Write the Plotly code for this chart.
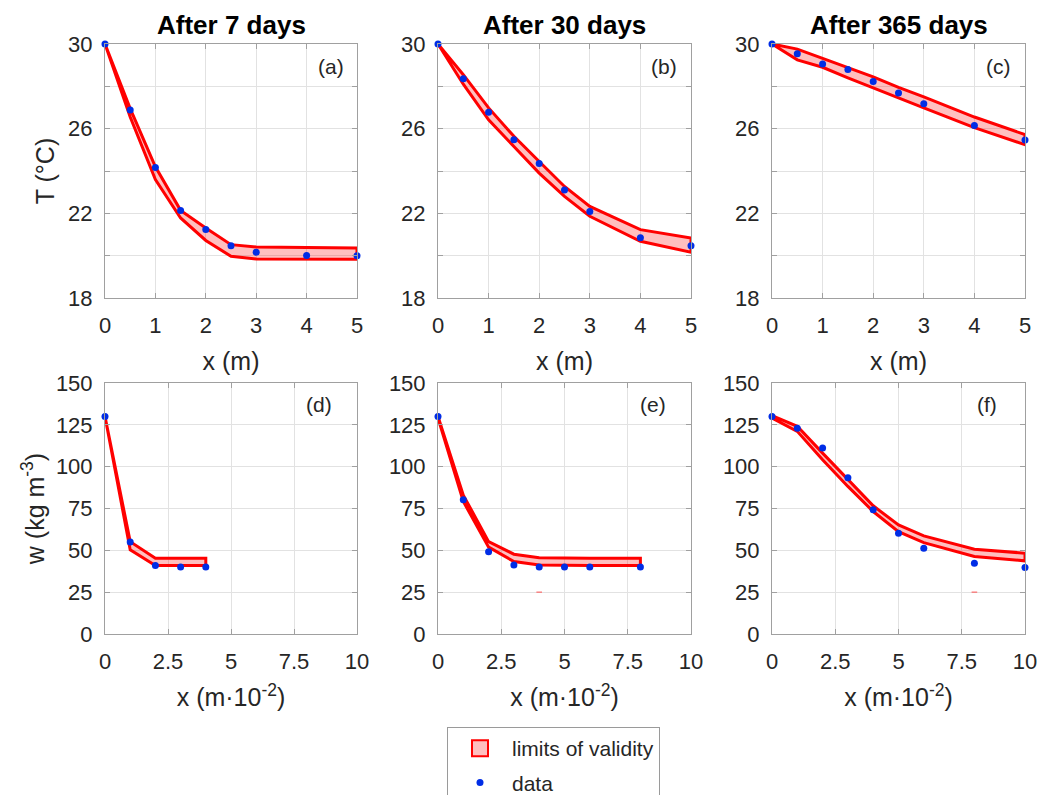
import plotly.graph_objects as go

# ---------------- data ----------------
# Temperature profiles (top row)
x_T = [0, 0.5, 1, 1.5, 2, 2.5, 3, 4, 5]

T7_data  = [30, 26.88, 24.17, 22.13, 21.24, 20.47, 20.16, 20.01, 20.0]
T7_upper = [30, 26.95, 24.20, 22.14, 21.31, 20.52, 20.41, 20.37, 20.36]
T7_lower = [30, 26.55, 23.60, 21.78, 20.72, 19.97, 19.84, 19.83, 19.83]

T30_data  = [30, 28.36, 26.77, 25.48, 24.35, 23.10, 22.09, 20.85, 20.47]
T30_upper = [30, 28.55, 26.98, 25.64, 24.45, 23.27, 22.33, 21.23, 20.83]
T30_lower = [30, 28.10, 26.42, 25.16, 23.90, 22.80, 21.86, 20.68, 20.16]

T365_data  = [30, 29.54, 29.06, 28.79, 28.23, 27.69, 27.18, 26.15, 25.47]
T365_upper = [30, 29.76, 29.32, 28.90, 28.45, 27.95, 27.50, 26.55, 25.72]
T365_lower = [30, 29.25, 28.90, 28.40, 27.95, 27.45, 26.98, 26.05, 25.24]

# Moisture profiles (bottom row)
x_w7 = [0, 1, 2, 3, 4]
w7_data  = [130, 55.0, 41.0, 40.0, 40.0]
w7_upper = [130, 55.2, 45.3, 45.3, 45.3]
w7_lower = [130, 50.3, 40.9, 40.9, 40.9]

x_w30 = [0, 1, 2, 3, 4, 5, 6, 8]
w30_data  = [130, 80.2, 49.1, 41.3, 40.0, 40.0, 40.0, 40.0]
w30_upper = [130, 83.0, 55.2, 47.7, 45.6, 45.3, 45.3, 45.3]
w30_lower = [129, 79.2, 51.9, 43.3, 41.2, 40.9, 40.9, 40.9]

x_w365 = [0, 1, 2, 3, 4, 5, 6, 8, 10]
w365_data  = [130, 122.9, 111.1, 93.4, 74.2, 60.2, 51.3, 42.3, 39.7]
w365_upper = [130.5, 124.1, 108.1, 92.2, 76.6, 65.2, 58.6, 50.7, 48.3]
w365_lower = [129.0, 121.1, 104.1, 88.2, 73.2, 61.2, 54.6, 46.3, 43.7]

# small stray red marks seen in panels (d) and (e)
stray_x = {4: [4], 5: [8]}
stray_y = {4: [25], 5: [25]}

titles = ["After 7 days", "After 30 days", "After 365 days"]
panel_labels = ["(a)", "(b)", "(c)", "(d)", "(e)", "(f)"]

T_ticks = [18, 22, 26, 30]
T_minor = [20, 24, 28]
xT_ticks = [0, 1, 2, 3, 4, 5]
w_ticks = [0, 25, 50, 75, 100, 125, 150]
xw_ticks = [0, 2.5, 5, 7.5, 10]
xw_ticktext = ["0", "2.5", "5", "7.5", "10"]

panels = [
    (x_T, T7_data, T7_upper, T7_lower),
    (x_T, T30_data, T30_upper, T30_lower),
    (x_T, T365_data, T365_upper, T365_lower),
    (x_w7, w7_data, w7_upper, w7_lower),
    (x_w30, w30_data, w30_upper, w30_lower),
    (x_w365, w365_data, w365_upper, w365_lower),
]

# ---------------- layout geometry ----------------
W, H = 1037, 795
col_px = [(105, 357), (438, 691), (772, 1025)]
row_px = [(44, 298), (383, 634)]

FONT = "Liberation Sans, Arial, Helvetica, sans-serif"
TXT = "#262626"
AXC = "#a0a0a0"
GRID = "#e2e2e2"
RED = "#ff0000"
PINK = "rgba(255,0,0,0.25)"
PINK_SOLID = "#ffbfbf"
BLUE = "rgb(0,45,230)"

fig = go.Figure()

for i, (xs, d, up, lo) in enumerate(panels):
    n = i + 1
    xa = "x" if n == 1 else f"x{n}"
    ya = "y" if n == 1 else f"y{n}"
    fig.add_trace(go.Scatter(
        x=list(xs) + list(xs)[::-1], y=list(up) + list(lo)[::-1],
        xaxis=xa, yaxis=ya, mode="lines", fill="toself",
        fillcolor=PINK, line=dict(color=RED, width=3),
        name="limits of validity", legendgroup="lim", showlegend=False,
        hoverinfo="skip"))
    if i in stray_x:
        fig.add_trace(go.Scatter(
            x=stray_x[i], y=stray_y[i], xaxis=xa, yaxis=ya, mode="markers",
            marker=dict(symbol="line-ew", size=4, line=dict(color="rgba(255,60,60,0.6)", width=1.5)),
            showlegend=False, hoverinfo="skip"))
    fig.add_trace(go.Scatter(
        x=xs, y=d, xaxis=xa, yaxis=ya, mode="markers",
        marker=dict(color=BLUE, size=7), name="data", legendrank=2,
        showlegend=(i == 0), cliponaxis=False))

# legend-only patch entry (pink box with red edge, as in the reference legend)
fig.add_trace(go.Scatter(
    x=[None], y=[None], mode="markers", name="limits of validity",
    legendgroup="lim", legendrank=1,
    marker=dict(symbol="square", size=16, color=PINK_SOLID, line=dict(color=RED, width=2))))

layout = dict(
    width=W, height=H,
    margin=dict(l=0, r=0, t=0, b=0, autoexpand=False),
    paper_bgcolor="white", plot_bgcolor="white",
    font=dict(family=FONT, color=TXT, size=21),
    showlegend=True,
    legend=dict(x=447 / W, xanchor="left", y=1 - 727 / H, yanchor="top",
                bordercolor="#9a9a9a", borderwidth=1, bgcolor="white",
                font=dict(size=21, color=TXT), tracegroupgap=4,
                itemwidth=54),
)

common = dict(showline=True, linecolor=AXC, linewidth=1, mirror="ticks",
              ticks="inside", ticklen=5, tickcolor=AXC, showgrid=True,
              gridcolor=GRID, gridwidth=1, zeroline=False,
              ticklabeloverflow="allow",
              tickfont=dict(size=22, color=TXT, family=FONT))

annotations = []
for i in range(6):
    n = i + 1
    r = 0 if i < 3 else 1
    c = i % 3
    x0, x1 = col_px[c]
    y0, y1 = row_px[r]
    xkey = "xaxis" if n == 1 else f"xaxis{n}"
    ykey = "yaxis" if n == 1 else f"yaxis{n}"
    yanchor_name = "y" if n == 1 else f"y{n}"
    xanchor_name = "x" if n == 1 else f"x{n}"
    xd = [x0 / W, x1 / W]
    yd = [1 - y1 / H, 1 - y0 / H]
    if r == 0:
        xax = dict(common, domain=xd, anchor=yanchor_name, range=[0, 5],
                   tickvals=xT_ticks, ticklabelstandoff=8,
                   title=dict(text="x (m)", font=dict(size=25, color=TXT), standoff=15))
        yax = dict(common, domain=yd, anchor=xanchor_name, range=[18, 30],
                   tickvals=T_ticks, ticklabelstandoff=7,
                   minor=dict(tickvals=T_minor, showgrid=True, gridcolor=GRID, gridwidth=1,
                              ticks="inside", ticklen=5, tickcolor=AXC))
        if c == 0:
            yax["title"] = dict(text="T (°C)", font=dict(size=25, color=TXT), standoff=6)
    else:
        xax = dict(common, domain=xd, anchor=yanchor_name, range=[0, 10],
                   tickvals=xw_ticks, ticktext=xw_ticktext, ticklabelstandoff=8,
                   title=dict(text="x (m·10<sup>-2</sup>)", font=dict(size=25, color=TXT), standoff=15))
        yax = dict(common, domain=yd, anchor=xanchor_name, range=[0, 150],
                   tickvals=w_ticks, ticklabelstandoff=7)
        if c == 0:
            yax["title"] = dict(text="w (kg m<sup>-3</sup>)", font=dict(size=25, color=TXT), standoff=4)
    layout[xkey] = xax
    layout[ykey] = yax

    annotations.append(dict(
        text=panel_labels[i], xref=f"{xanchor_name} domain", yref=f"{yanchor_name} domain",
        x=0.895 if r == 0 else 0.85, y=0.913, xanchor="center", yanchor="middle",
        showarrow=False, font=dict(size=21, color=TXT)))
    if r == 0:
        annotations.append(dict(
            text=f"<b>{titles[c]}</b>", xref="paper", yref="paper",
            x=(x0 + x1) / 2 / W, y=1 - 25 / H, xanchor="center", yanchor="middle",
            showarrow=False, font=dict(size=26, color="black")))

layout["annotations"] = annotations
fig.update_layout(**layout)
fig.write_html("out.html", config={"displayModeBar": False},
               post_script="document.body.style.margin='0';document.body.style.overflow='hidden';")
